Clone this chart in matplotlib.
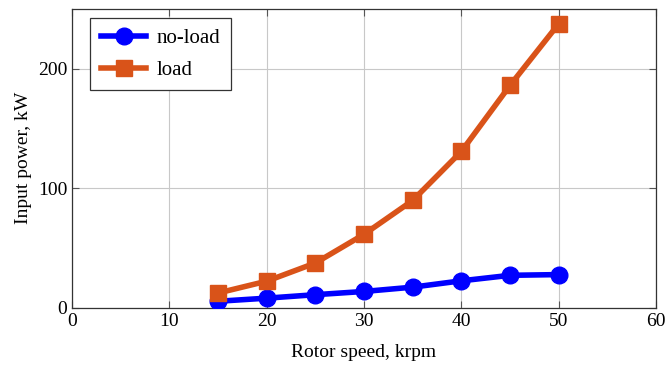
import numpy as np
import matplotlib
matplotlib.use("Agg")
import matplotlib.pyplot as plt

plt.rcParams['font.family'] = ['Liberation Serif', 'DejaVu Serif']
plt.rcParams['mathtext.fontset'] = 'stix'

speed = [15, 20, 25, 30, 35, 40, 45, 50]
p_noload = [5.5, 8.1, 11.0, 13.7, 17.3, 22.6, 27.2, 27.8]
p_load = [12.4, 22.3, 37.5, 61.5, 89.8, 130.8, 186.0, 237.5]

fig = plt.figure(figsize=(6.68, 3.70), dpi=100)
ax = fig.add_axes([0.108, 0.168, 0.874, 0.808])

ax.plot(speed, p_noload, '-o', color=(0, 0, 1), lw=4, ms=12, label='no-load', zorder=3)
ax.plot(speed, p_load, '-s', color='#D95319', lw=4, ms=11, label='load', zorder=3)

ax.set_xlim(0, 60)
ax.set_ylim(0, 250)
ax.set_xticks([0, 10, 20, 30, 40, 50, 60])
ax.set_yticks([0, 100, 200])
ax.grid(True, color='#c8c8c8', lw=0.8)
ax.set_axisbelow(True)
ax.tick_params(direction='in', top=True, right=True, labelsize=14, length=5, color='#555555')
for s in ax.spines.values():
    s.set_linewidth(0.9)
    s.set_color('#333333')

ax.set_xlabel('Rotor speed, krpm', fontsize=14, labelpad=10)
ax.set_ylabel('Input power, kW', fontsize=14)

leg = ax.legend(loc='upper left', bbox_to_anchor=(0.031, 0.97), fontsize=15,
                fancybox=False, edgecolor='#333333', framealpha=1, borderaxespad=0,
                handlelength=2.2, handletextpad=0.5, borderpad=0.5, labelspacing=0.6)
leg.get_frame().set_linewidth(0.9)

fig.savefig('out.png', dpi=100)
